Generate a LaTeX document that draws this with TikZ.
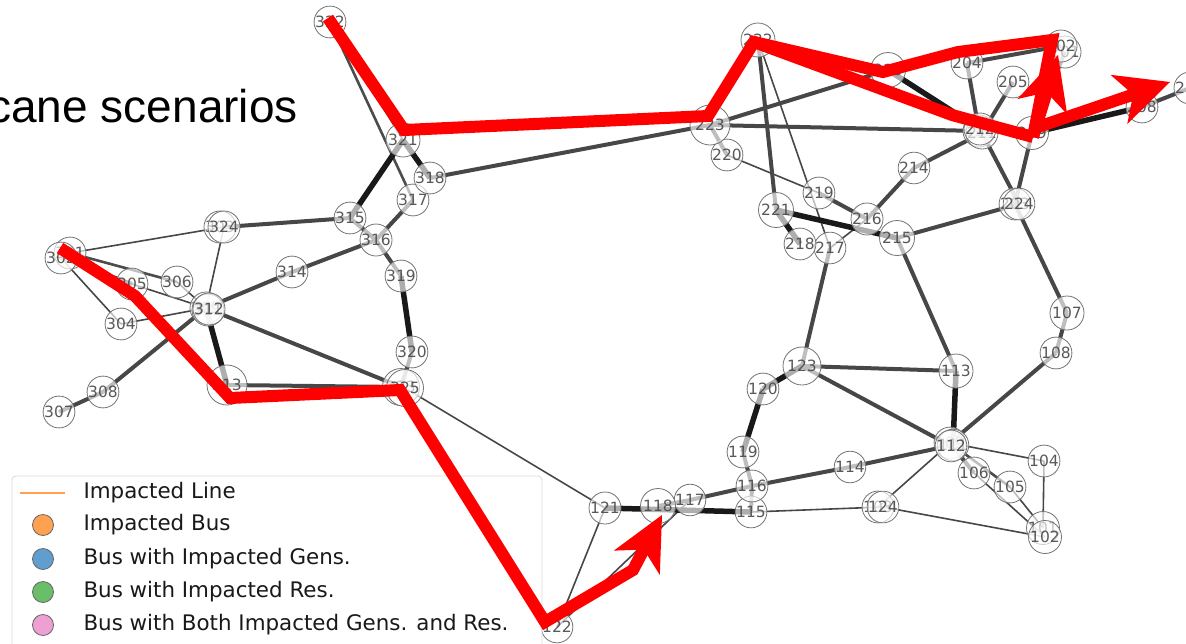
\documentclass[tikz,border=0pt]{standalone}
\usepackage{fontspec}
\setmainfont{DejaVu Sans}
\newfontfamily\titlefont{Liberation Sans}
\usetikzlibrary{arrows.meta,backgrounds}
\definecolor{hurrred}{RGB}{255,0,0}
\definecolor{legorange}{RGB}{255,161,80}
\definecolor{legblue}{RGB}{96,158,208}
\definecolor{leggreen}{RGB}{106,190,106}
\definecolor{legpink}{RGB}{238,160,210}
\tikzset{
  bus/.style={circle,draw=black!55,line width=0.8pt,fill=white,fill opacity=0.65,text opacity=0.9,
    text=black!72,inner sep=0pt,font=\fontsize{15.5}{15.5}\selectfont},
  tln/.style={line width=1.6pt,draw=black!72},
  sln/.style={line width=2.6pt,draw=black!70},
  mln/.style={line width=4pt,draw=black!72},
  tkln/.style={line width=5.5pt,draw=black!90},
  hurr/.style={line width=12pt,draw=hurrred,line join=miter,miter limit=3},
  hurrarrow/.style={hurr,-{Stealth[length=54pt,width=52pt,inset=15pt,line width=0pt]}},
  legdot/.style={circle,draw=black!60,line width=0.8pt,minimum size=21pt,inner sep=0pt},
  legtext/.style={anchor=west,font=\fontsize{21.4}{21.4}\selectfont,text=black!90},
}
\begin{document}
\begin{tikzpicture}[x=1pt,y=-1pt,line cap=butt]
\useasboundingbox (0,0) rectangle (1186,643);
\clip (0,0) rectangle (1186,643);
% title fragment
\node[anchor=base east,inner sep=0pt,font=\titlefont\fontsize{46}{46}\selectfont] (title) at (298,122) {cane scenarios};
% buses: name/x/y/size
\foreach \n/\x/\y/\s in {101/1043/528/33,102/1045/537/33,103/878/507/29,124/883/507/29,104/1044/461/29,
  105/1010/487/29,106/974/473/29,107/1067/313/34,108/1056/353/29,109/950/443/30,111/953/445/30,
  112/951/446/30,113/956/371/34,114/850/467/29,115/751/512/31,116/752/486/31,117/690/500/28,
  118/658/506/35,119/743/452/29,120/763/389/29,121/605/508/32,122/557/627/30,123/802/366/38}
  \node[bus,minimum size=\s pt] (b\n) at (\x,\y) {\n};
\foreach \n/\x/\y/\s in {201/1065/52/32,202/1061/46/32,203/1015/204/30,224/1019/204/30,204/967/63/30,
  205/1013/82/29,207/1190/88/32,208/1142/107/30,209/1032/133/33,210/979/131/32,211/982/133/32,
  212/980/129/32,213/888/70/35,214/914/168/28,215/897/238/35,216/867/219/32,217/830/248/29,
  218/800/244/30,219/819/193/29,220/727/155/28,221/776/210/35,222/758/40/34,223/710/125/40}
  \node[bus,minimum size=\s pt] (b\n) at (\x,\y) {\n};
\foreach \n/\x/\y/\s in {301/70/253/30,302/61/258/30,303/220/227/32,324/224/227/32,304/121/324/29,
  305/132/284/29,306/177/282/29,307/59/412/30,308/103/392/29,309/206/308/32,311/208/310/32,
  312/209/309/32,313/227/385/40,314/292/272/29,315/350/218/30,316/376/240/32,317/413/200/29,
  318/430/178/30,319/401/276/29,320/412/352/29,321/403/140/34,322/330/22/30,323/401/387/37,
  325/405/388/37}
  \node[bus,minimum size=\s pt] (b\n) at (\x,\y) {\n};
% branches
\begin{scope}[on background layer]
\foreach \a/\b in {322/321,324/301,324/309,302/304,304/309,306/309,305/309,325/121,121/122,122/117,
  115/124,124/102,103/109,109/104,105/101,106/102,104/101,220/219,222/217,217/216}
  \draw[tln] (b\a.center) -- (b\b.center);
\foreach \a/\b in {322/317,301/306,109/105}
  \draw[sln] (b\a.center) -- (b\b.center);
\foreach \a/\b in {318/223,317/316,315/316,316/314,316/319,315/324,302/305,309/314,309/323,309/308,
  308/307,313/323,320/323,117/118,117/116,116/115,116/119,116/114,114/111,123/113,123/112,113/215,
  123/217,109/108,109/106,108/107,107/203,223/213,223/210,223/220,222/221,219/216,216/214,214/211,
  215/224,204/202,204/210,205/211,208/207,224/211,203/209,210/209,209/201}
  \draw[mln] (b\a.center) -- (b\b.center);
\foreach \a/\b in {321/318,321/315,309/313,319/320,121/115,119/120,120/123,113/111,221/218,221/215,
  213/212,209/208}
  \draw[tkln] (b\a.center) -- (b\b.center);
\end{scope}
% legend
\draw[black!15,line width=0.8pt,rounded corners=4pt,fill=white,fill opacity=0.8] (12,476) rectangle (542,680);
\coordinate (lgl0) at (20,493);
\coordinate (lgl1) at (65,493);
\draw[legorange,line width=2.2pt] (lgl0) -- (lgl1);
\node[legtext] (lgt1) at (80,493) {Impacted Line};
\node[legdot,fill=legorange] (lgd2) at (43,525) {};
\node[legtext] (lgt2) at (80,525) {Impacted Bus};
\node[legdot,fill=legblue] (lgd3) at (43,559) {};
\node[legtext] (lgt3) at (80,559) {Bus with Impacted Gens.};
\node[legdot,fill=leggreen] (lgd4) at (43,592) {};
\node[legtext] (lgt4) at (80,592) {Bus with Impacted Res.};
\node[legdot,fill=legpink] (lgd5) at (43,625) {};
\node[legtext] (lgt5) at (80,625) {Bus with Both Impacted Gens. and Res.};
% hurricane tracks
\coordinate (ra0) at (60,248);
\coordinate (ra1) at (135,296);
\coordinate (ra2) at (230,398);
\coordinate (ra3) at (400,390);
\coordinate (ra4) at (545,622);
\coordinate (ra5) at (633,570);
\coordinate (ra6) at (662,515);
\draw[hurrarrow] (ra0) -- (ra1) -- (ra2) -- (ra3) -- (ra4) -- (ra5) -- (ra6);
\coordinate (rb0) at (328,18);
\coordinate (rb1) at (404,130);
\coordinate (rb2) at (708,116);
\coordinate (rb3) at (754,42);
\coordinate (rb4) at (883,72);
\coordinate (rb5) at (958,52);
\coordinate (rb6) at (1052,40);
\coordinate (rb7) at (1033,137);
\coordinate (rc1) at (952,115);
\coordinate (ru) at (1058,55);
\coordinate (rr0) at (1035,128);
\coordinate (rr1) at (1170,82);
\draw[hurr] (rb0) -- (rb1) -- (rb2) -- (rb3) -- (rb4) -- (rb5) -- (rb6) -- (rb7);
\draw[hurr] (rb3) -- (rc1) -- (rb7);
\draw[hurrarrow] (rb7) -- (ru);
\draw[hurrarrow] (rr0) -- (rr1);
\end{tikzpicture}
\end{document}
